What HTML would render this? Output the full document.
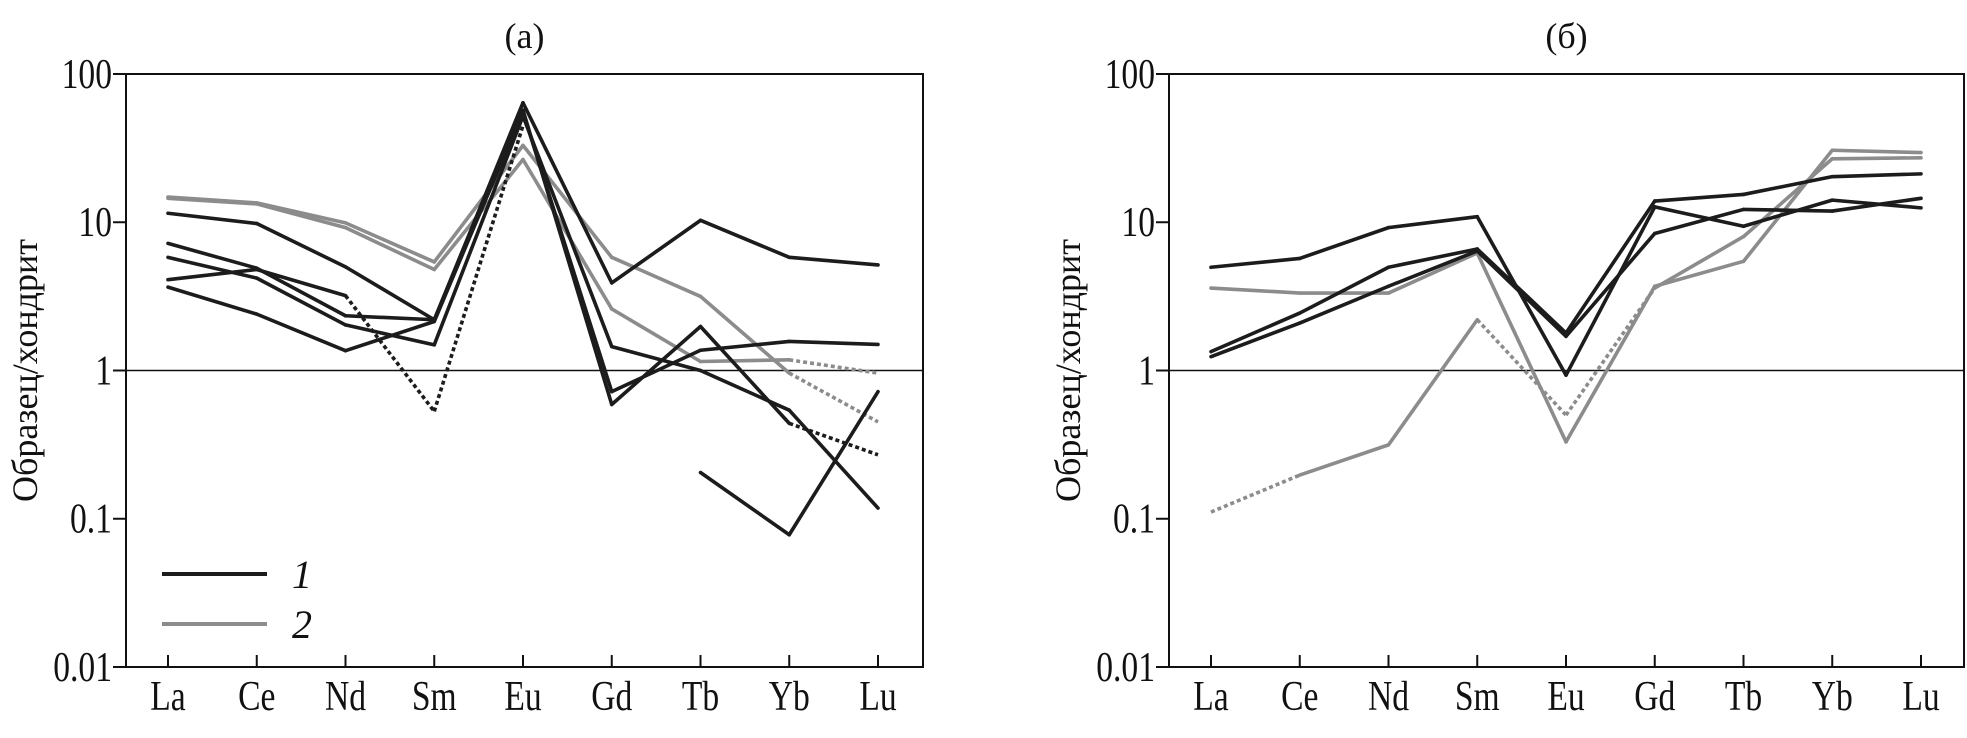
<!DOCTYPE html>
<html><head><meta charset="utf-8"><style>
body{margin:0;background:#fff;}
svg text{font-family:"Liberation Serif","DejaVu Serif",serif;fill:#111;}
</style></head><body>
<svg id="chart" width="1967" height="733" viewBox="0 0 1967 733" xmlns="http://www.w3.org/2000/svg"></svg>
<script>
const categories = ["La","Ce","Nd","Sm","Eu","Gd","Tb","Yb","Lu"];
const yTicks = [100,10,1,0.1,0.01];
const yTickLabels = ["100","10","1","0.1","0.01"];
// panel (a)
const aB1 = [11.5,9.8,5.0,2.2,64,3.9,10.3,5.8,5.15];
const aB2 = [7.2,4.9,2.34,2.2,55,0.72,1.37,1.57,1.5];
const aB3 = [5.8,4.2,2.03,1.49,52,1.45,1.0,0.54,0.118];
const aB4 = [4.1,4.8,3.2,0.53,45,null,null,null,null];
const aB5 = [3.65,2.4,1.36,2.14,57,0.59,1.98,0.44,0.27];
const aB6 = [null,null,null,null,null,null,0.205,0.078,0.72];
const aG1 = [14.8,13.5,9.9,5.4,33,5.8,3.16,0.96,0.45];
const aG2 = [14.5,13.3,9.2,4.8,26.5,2.6,1.15,1.18,0.96];
// dashed segment start indices
const aB4Dashed = [2,3];
const aB5Dashed = [7];
const aG1Dashed = [7];
const aG2Dashed = [7];
// panel (б)
const bR1 = [4.97,5.7,9.2,10.9,0.93,12.7,9.4,14.1,12.5];
const bR2 = [1.34,2.44,4.97,6.6,1.79,13.9,15.4,20.3,21.2];
const bR3 = [1.24,2.09,3.7,6.4,1.7,8.4,12.2,11.9,14.5];
const bG1 = [3.6,3.33,3.33,6.2,0.33,3.7,5.45,30.6,29.5];
const bG2 = [0.111,0.197,0.315,2.2,0.5,3.6,8.0,26.8,27.2];
const bG2Dashed = [0,3,4];

const NS="http://www.w3.org/2000/svg";
const svg=document.getElementById('chart');
const BLACK="#1c1c1c", GRAY="#8c8c8c";
const FONT="Liberation Serif, DejaVu Serif, serif";
function mk(tag,attrs,parent){const e=document.createElementNS(NS,tag);for(const k in attrs)e.setAttribute(k,attrs[k]);if(tag==='text')e.setAttribute('font-family',FONT);(parent||svg).appendChild(e);return e;}

function panel(id,left,right,title,series){
  const top=74,bottom=667;
  const g=mk('g',{});
  
  
  const x0=left+42, step=88.75;
  const xS=i=>x0+i*step;
  const yS=v=>top+(2-Math.log10(v))*(bottom-top)/4;
  const t=mk('text',{x:(left+right)/2,y:48,'font-size':36,'text-anchor':'middle'},g);t.textContent=title;
  
  
  const fr=mk('rect',{x:left,y:top,width:right-left,height:bottom-top,fill:'none',stroke:'#111','stroke-width':2},g);
  
  
  const ref=mk('line',{x1:left,x2:right,y1:yS(1),y2:yS(1),stroke:'#111','stroke-width':1.6},g);
  
  
  yTicks.forEach((v,i)=>{
    mk('line',{x1:left-13,x2:left,y1:yS(v),y2:yS(v),stroke:'#111','stroke-width':2},g);
    const tl=mk('text',{x:left-14,y:yS(v)+14,'font-size':42,'text-anchor':'end',transform:`translate(${(left-14)*0.2},0) scale(0.8,1)`},g);
    tl.textContent=yTickLabels[i];
    
    
  });
  categories.forEach((c,i)=>{
    mk('line',{x1:xS(i),x2:xS(i),y1:bottom-12,y2:bottom,stroke:'#111','stroke-width':2},g);
    const tl=mk('text',{x:xS(i),y:bottom+43,'font-size':42,'text-anchor':'middle',transform:`translate(${xS(i)*0.2},0) scale(0.8,1)`},g);
    tl.textContent=c;
    
    
  });
  const yl=mk('text',{x:0,y:0,'font-size':36,'text-anchor':'middle',transform:`translate(${left-89},${(top+bottom)/2}) rotate(-90)`},g);
  yl.textContent="Образец/хондрит";
  
  
  series.forEach(s=>{
    for(let i=0;i<s.v.length-1;i++){
      if(s.v[i]==null||s.v[i+1]==null)continue;
      const dashed=s.d.includes(i);
      const ln=mk('line',{x1:xS(i),y1:yS(s.v[i]),x2:xS(i+1),y2:yS(s.v[i+1]),stroke:s.c,'stroke-width':3.6,'stroke-linecap':dashed?'butt':'round'},g);
      if(dashed)ln.setAttribute('stroke-dasharray','4 3');
      
      
    }
  });
  return g;
}
panel('panel-a',126,923,'(а)',[
  {v:aG1,c:GRAY,d:aG1Dashed,n:'a-gray-1'},{v:aG2,c:GRAY,d:aG2Dashed,n:'a-gray-2'},
  {v:aB1,c:BLACK,d:[],n:'a-black-1'},{v:aB2,c:BLACK,d:[],n:'a-black-2'},{v:aB3,c:BLACK,d:[],n:'a-black-3'},
  {v:aB4,c:BLACK,d:aB4Dashed,n:'a-black-4'},{v:aB5,c:BLACK,d:aB5Dashed,n:'a-black-5'},{v:aB6,c:BLACK,d:[],n:'a-black-6'}
]);
panel('panel-b',1169,1964,'(б)',[
  {v:bG1,c:GRAY,d:[],n:'b-gray-1'},{v:bG2,c:GRAY,d:bG2Dashed,n:'b-gray-2'},
  {v:bR1,c:BLACK,d:[],n:'b-black-1'},{v:bR2,c:BLACK,d:[],n:'b-black-2'},{v:bR3,c:BLACK,d:[],n:'b-black-3'}
]);
// legend
const lg=mk('g',{});


[[BLACK,'1',574],[GRAY,'2',624]].forEach(([c,t,y])=>{
  mk('line',{x1:162,x2:267,y1:y,y2:y,stroke:c,'stroke-width':4},lg);
  const tx=mk('text',{x:292,y:y+14,'font-size':40,'font-style':'italic'},lg);
  tx.textContent=t;
  
  
});
</script>
</body></html>
